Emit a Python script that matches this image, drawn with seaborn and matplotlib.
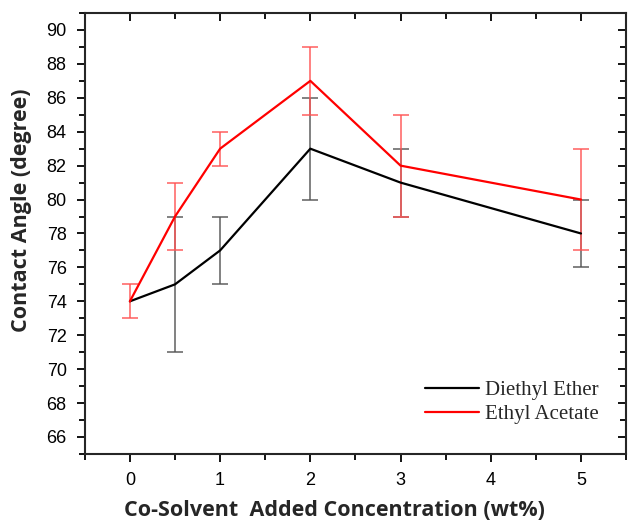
import numpy as np
import pandas as pd
import seaborn as sns
import matplotlib.pyplot as plt
from matplotlib.ticker import MultipleLocator

# data
conc = [0, 0.5, 1, 2, 3, 5]
ether = [74, 75, 77, 83, 81, 78]
ether_err = [np.nan, 4, 2, 3, 2, 2]
acetate = [74, 79, 83, 87, 82, 80]
acetate_err = [1, 2, 1, 2, 3, 3]

df = pd.DataFrame({
    'conc': conc * 2,
    'angle': ether + acetate,
    'solvent': ['Diethyl Ether'] * len(conc) + ['Ethyl Acetate'] * len(conc),
})

sns.set_style('ticks')
plt.rcParams['font.family'] = ['Liberation Sans', 'DejaVu Sans']

fig = plt.figure(figsize=(6.28, 5.2), dpi=100)
ax = fig.add_axes([0.135, 0.127, 0.862, 0.848])

# error bars (lighter, like the original); no bar where the error is missing
m = ~np.isnan(ether_err)
ax.errorbar(np.array(conc)[m], np.array(ether)[m], yerr=np.array(ether_err)[m],
            fmt='none', ecolor='#555555', elinewidth=1.3, capsize=6,
            capthick=1.3, alpha=0.8, zorder=2)
ax.errorbar(conc, acetate, yerr=acetate_err, fmt='none', ecolor='#ff5555',
            elinewidth=1.3, capsize=6, capthick=1.3, alpha=0.8, zorder=2)

sns.lineplot(data=df, x='conc', y='angle', hue='solvent',
             palette={'Diethyl Ether': 'black', 'Ethyl Acetate': 'red'},
             linewidth=1.6, ax=ax, zorder=3, legend=True)

ax.set_xlim(-0.5, 5.5)
ax.set_ylim(65, 91)
ax.xaxis.set_major_locator(MultipleLocator(1))
ax.xaxis.set_minor_locator(MultipleLocator(0.5))
ax.yaxis.set_minor_locator(MultipleLocator(1))
ax.set_yticks(range(66, 91, 2))

ax.tick_params(axis='both', which='both', direction='out', labelsize=13,
               width=1.3, colors='black', pad=7)
ax.tick_params(which='major', length=6)
ax.tick_params(which='minor', length=4)
# ticks on top and right point inward
ax.tick_params(axis='x', which='both', top=True)
ax.tick_params(axis='y', which='both', right=True)
for t in ax.xaxis.get_major_ticks() + ax.xaxis.get_minor_ticks():
    t.tick2line.set_marker(3)
for t in ax.yaxis.get_major_ticks() + ax.yaxis.get_minor_ticks():
    t.tick2line.set_marker(0)
for s in ax.spines.values():
    s.set_linewidth(1.5)

ax.set_xlabel('Co-Solvent  Added Concentration (wt%)', fontsize=15.5,
              fontweight='bold', family=['Open Sans', 'DejaVu Sans'])
ax.set_ylabel('Contact Angle (degree)', fontsize=15.5,
              fontweight='bold', family=['Open Sans', 'DejaVu Sans'])
ax.xaxis.set_label_coords(0.462, -0.104)
ax.yaxis.set_label_coords(-0.098, 0.553)

leg = ax.legend(loc='lower right', bbox_to_anchor=(0.985, 0.025), frameon=False,
                prop={'family': 'Liberation Serif', 'size': 15},
                handlelength=2.6, handletextpad=0.3, labelspacing=0.2)

fig.savefig('out.png', dpi=100)
